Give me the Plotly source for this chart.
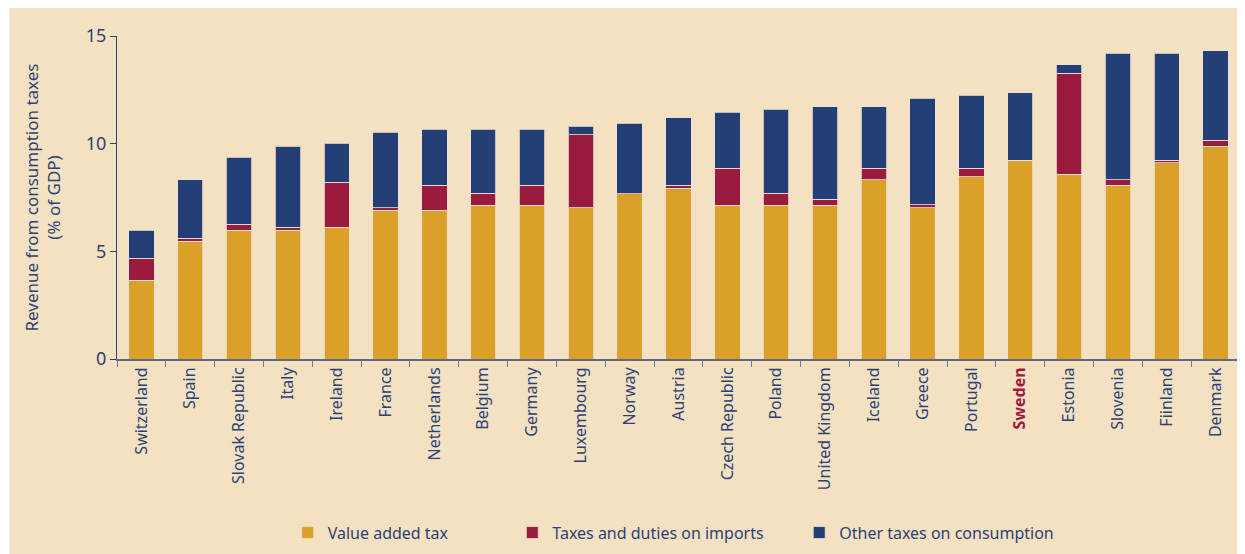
import plotly.graph_objects as go

# Data (% of GDP)
countries = ["Switzerland", "Spain", "Slovak Republic", "Italy", "Ireland", "France",
             "Netherlands", "Belgium", "Germany", "Luxembourg", "Norway", "Austria",
             "Czech Republic", "Poland", "United Kingdom", "Iceland", "Greece", "Portugal",
             "Sweden", "Estonia", "Slovenia", "Fiinland", "Denmark"]
vat = [3.65, 5.48, 5.99, 5.99, 6.11, 6.90, 6.90, 7.15, 7.15, 7.02, 7.67, 7.94,
       7.15, 7.15, 7.15, 8.32, 7.02, 8.46, 9.23, 8.58, 8.07, 9.11, 9.88]
imports = [1.02, 0.12, 0.26, 0.12, 2.09, 0.12, 1.17, 0.54, 0.92, 3.39, 0.0, 0.13,
           1.70, 0.54, 0.26, 0.53, 0.14, 0.39, 0.0, 4.69, 0.25, 0.12, 0.27]
other = [1.30, 2.72, 3.12, 3.77, 1.82, 3.51, 2.60, 2.98, 2.60, 0.39, 3.27, 3.13,
         2.60, 3.90, 4.30, 2.86, 4.94, 3.39, 3.14, 0.40, 5.87, 4.96, 4.17]

c_vat = "#DAA028"
c_imp = "#9B1B3F"
c_oth = "#243F75"
c_text = "#2B4275"
bg = "#F4E1C2"

ticktext = [f"<b><span style='color:{c_imp}'>{c}</span></b>" if c == "Sweden" else c
            for c in countries]

series = [("Value added tax", vat, c_vat, "legend", 0.152),
          ("Taxes and duties on imports", imports, c_imp, "legend2", 0.352),
          ("Other taxes on consumption", other, c_oth, "legend3", 0.6075)]

fig = go.Figure()
legends = {}
for name, vals, col, lg, lx in series:
    fig.add_trace(go.Bar(x=countries, y=vals, name=name, marker_color=col,
                         marker_line=dict(color="rgba(235,225,215,0.8)", width=1),
                         width=0.52, legend=lg))
    legends[lg] = dict(x=lx, xanchor="left", y=-0.485, yanchor="top",
                       orientation="h", font=dict(size=16, color=c_text),
                       itemwidth=30, bgcolor="rgba(0,0,0,0)")

# page has an 8px body margin, so the plot area is offset to land where the reference has it
fig.update_layout(
    barmode="stack",
    width=1245, height=554,
    margin=dict(l=109, r=13, t=28, b=203),
    paper_bgcolor="white",
    plot_bgcolor="rgba(0,0,0,0)",
    font=dict(family="Noto Sans", size=16, color=c_text),
    showlegend=True,
    shapes=[dict(type="rect", xref="paper", yref="paper", x0=-0.0958, x1=1.02,
                 y0=-0.65, y1=1.09, fillcolor=bg, line_width=0, layer="below")],
    **legends,
)
fig.update_xaxes(
    tickvals=countries, ticktext=ticktext, tickangle=-90,
    ticks="outside", tickson="boundaries", ticklen=6, tickcolor="#6B7A99",
    showline=True, linecolor="#5F6B85", linewidth=2,
    range=[-0.5, 22.5], tickfont=dict(size=16, color=c_text),
)
fig.update_yaxes(
    range=[0, 15], tickvals=[0, 5, 10, 15], ticks="outside", ticklen=6,
    tickcolor=c_text, showline=True, linecolor=c_text, linewidth=1,
    showgrid=False, zeroline=False, tickfont=dict(size=18, color=c_text),
    title=dict(text="Revenue from consumption taxes<br>(% of GDP)",
               font=dict(size=17, color=c_text), standoff=20),
)

fig.write_html("out.html")
